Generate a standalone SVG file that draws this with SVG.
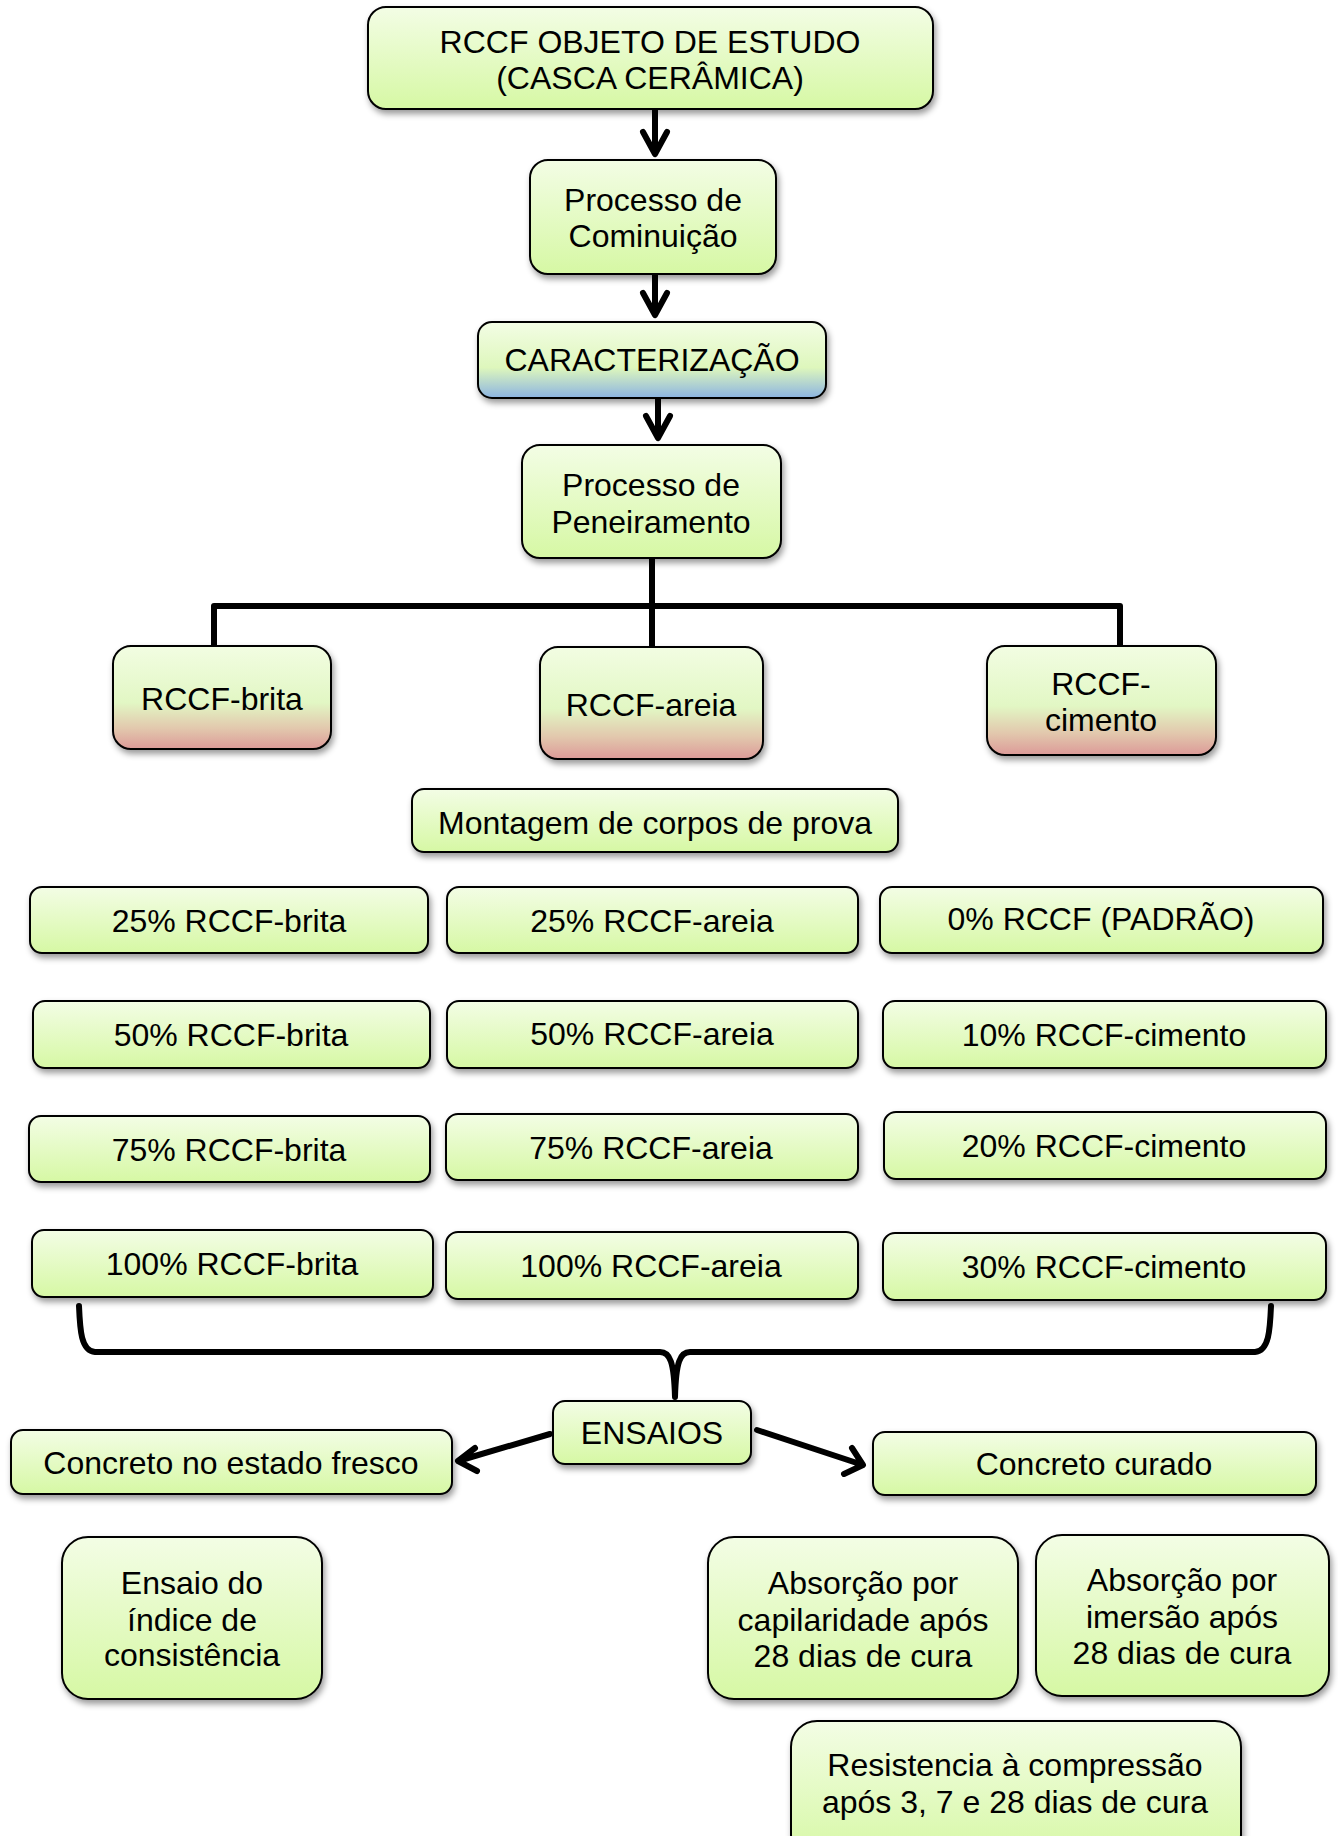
<svg xmlns="http://www.w3.org/2000/svg" width="1338" height="1836" viewBox="0 0 1338 1836">
<defs>
<linearGradient id="g" x1="0" y1="0" x2="0" y2="1">
<stop offset="0" stop-color="#f3fde5"/>
<stop offset="1" stop-color="#d6f8a4"/>
</linearGradient>
<linearGradient id="gp" x1="0" y1="0" x2="0" y2="1">
<stop offset="0" stop-color="#f2fde2"/>
<stop offset="0.55" stop-color="#e2f7c4"/>
<stop offset="0.8" stop-color="#e2c8ad"/>
<stop offset="1" stop-color="#dc9a98"/>
</linearGradient>
<linearGradient id="gb" x1="0" y1="0" x2="0" y2="1">
<stop offset="0" stop-color="#f3fde5"/>
<stop offset="0.6" stop-color="#def7bc"/>
<stop offset="1" stop-color="#8cb4e2"/>
</linearGradient>
<filter id="sh" x="-10%" y="-10%" width="130%" height="140%">
<feDropShadow dx="2" dy="4" stdDeviation="3" flood-color="#000" flood-opacity="0.4"/>
</filter>
<style>
.n rect{fill:url(#g);stroke:#000;stroke-width:2;filter:url(#sh)}
.p rect{fill:url(#gp)}
.b rect{fill:url(#gb)}
text{font-family:"Liberation Sans",Arial,sans-serif;font-size:32px;fill:#000;text-anchor:middle;dominant-baseline:central}
.c path{fill:none;stroke:#000;stroke-width:6;stroke-linecap:round;stroke-linejoin:round}
</style>
</defs>
<g class="c" id="connectors">
<path d="M655 109V152M643 132L655 154L667 132"/>
<path d="M655 274V313M643 293L655 315L667 293"/>
<path d="M658 398V436M646 416L658 438L670 416"/>
<path d="M652 558V646M214 646V606H1120V646"/>
<path d="M79 1306C80 1330 81 1351 95 1352H660C670 1352 674 1362 675 1397C676 1362 680 1352 690 1352H1255C1269 1351 1270 1330 1271 1306"/>
<path d="M550 1434L458 1461M475 1448L458 1461L477 1471"/>
<path d="M757 1430L863 1465M844 1474L863 1465L852 1448"/>
</g>
<g class="n" id="n1"><rect x="368" y="7" width="565" height="102" rx="18"/><text x="650" y="42">RCCF OBJETO DE ESTUDO</text><text x="650" y="78">(CASCA CERÂMICA)</text></g>
<g class="n" id="n2"><rect x="530" y="160" width="246" height="114" rx="18"/><text x="653" y="200">Processo de</text><text x="653" y="236">Cominuição</text></g>
<g class="n b" id="n3"><rect x="478" y="322" width="348" height="76" rx="14"/><text x="652" y="360">CARACTERIZAÇÃO</text></g>
<g class="n" id="n4"><rect x="522" y="445" width="259" height="113" rx="18"/><text x="651" y="485">Processo de</text><text x="651" y="522">Peneiramento</text></g>
<g class="n p" id="n5"><rect x="113" y="646" width="218" height="103" rx="18"/><text x="222" y="699">RCCF-brita</text></g>
<g class="n p" id="n6"><rect x="540" y="647" width="223" height="112" rx="18"/><text x="651" y="705">RCCF-areia</text></g>
<g class="n p" id="n7"><rect x="987" y="646" width="229" height="109" rx="18"/><text x="1101" y="684">RCCF-</text><text x="1101" y="720">cimento</text></g>
<g class="n" id="n8"><rect x="412" y="789" width="486" height="63" rx="12"/><text x="655" y="823">Montagem de corpos de prova</text></g>
<g class="n" id="r1a"><rect x="30" y="887" width="398" height="66" rx="12"/><text x="229" y="921">25% RCCF-brita</text></g>
<g class="n" id="r1b"><rect x="447" y="887" width="411" height="66" rx="12"/><text x="652" y="921">25% RCCF-areia</text></g>
<g class="n" id="r1c"><rect x="880" y="887" width="443" height="66" rx="12"/><text x="1101" y="919">0% RCCF (PADRÃO)</text></g>
<g class="n" id="r2a"><rect x="33" y="1001" width="397" height="67" rx="12"/><text x="231" y="1035">50% RCCF-brita</text></g>
<g class="n" id="r2b"><rect x="447" y="1001" width="411" height="67" rx="12"/><text x="652" y="1034">50% RCCF-areia</text></g>
<g class="n" id="r2c"><rect x="883" y="1001" width="443" height="67" rx="12"/><text x="1104" y="1035">10% RCCF-cimento</text></g>
<g class="n" id="r3a"><rect x="29" y="1116" width="401" height="66" rx="12"/><text x="229" y="1150">75% RCCF-brita</text></g>
<g class="n" id="r3b"><rect x="446" y="1114" width="412" height="66" rx="12"/><text x="651" y="1148">75% RCCF-areia</text></g>
<g class="n" id="r3c"><rect x="884" y="1112" width="442" height="67" rx="12"/><text x="1104" y="1146">20% RCCF-cimento</text></g>
<g class="n" id="r4a"><rect x="32" y="1230" width="401" height="67" rx="12"/><text x="232" y="1264">100% RCCF-brita</text></g>
<g class="n" id="r4b"><rect x="446" y="1232" width="412" height="67" rx="12"/><text x="651" y="1266">100% RCCF-areia</text></g>
<g class="n" id="r4c"><rect x="883" y="1233" width="443" height="67" rx="12"/><text x="1104" y="1267">30% RCCF-cimento</text></g>
<g class="n" id="ens"><rect x="553" y="1401" width="198" height="63" rx="12"/><text x="652" y="1433">ENSAIOS</text></g>
<g class="n" id="fr"><rect x="11" y="1430" width="441" height="64" rx="12"/><text x="231" y="1463">Concreto no estado fresco</text></g>
<g class="n" id="cu"><rect x="873" y="1432" width="443" height="63" rx="12"/><text x="1094" y="1464">Concreto curado</text></g>
<g class="n" id="e1"><rect x="62" y="1537" width="260" height="162" rx="26"/><text x="192" y="1583">Ensaio do</text><text x="192" y="1620">índice de</text><text x="192" y="1655">consistência</text></g>
<g class="n" id="e2"><rect x="708" y="1537" width="310" height="162" rx="26"/><text x="863" y="1583">Absorção por</text><text x="863" y="1620">capilaridade após</text><text x="863" y="1656">28 dias de cura</text></g>
<g class="n" id="e3"><rect x="1036" y="1535" width="293" height="161" rx="26"/><text x="1182" y="1580">Absorção por</text><text x="1182" y="1617">imersão após</text><text x="1182" y="1653">28 dias de cura</text></g>
<g class="n" id="e4"><rect x="791" y="1721" width="450" height="140" rx="26"/><text x="1015" y="1765">Resistencia à compressão</text><text x="1015" y="1802">após 3, 7 e 28 dias de cura</text></g>
</svg>
